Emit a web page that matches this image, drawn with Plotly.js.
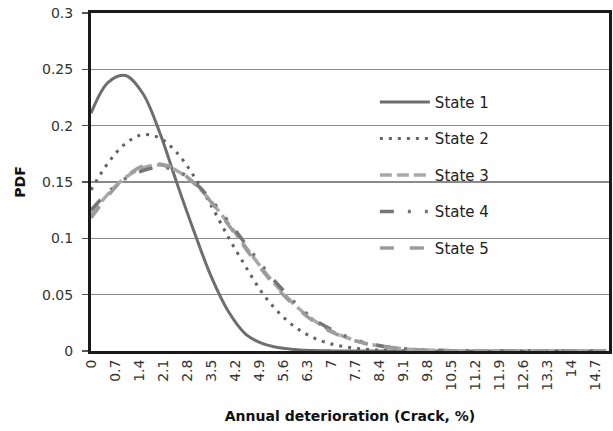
<!DOCTYPE html>
<html>
<head>
<meta charset="utf-8">
<script src="https://cdn.plot.ly/plotly-3.0.1.min.js"></script>
<style>html,body{margin:0;padding:0;background:#fff;}#chart{width:613px;height:431px;}</style>
</head>
<body>
<div id="chart"></div>
<script>
// x positions (Annual deterioration, Crack %)
var xVals = [0,0.5,1,1.5,2,2.5,3,3.5,4,4.5,5,5.5,6,6.5,7,7.5,8,8.5,9,9.5,10,10.5,11,12,13,14,15];
var state1 = [0.211,0.2385,0.2445,0.229,0.194,0.149,0.106,0.066,0.035,0.015,0.0065,0.0028,0.0011,0.0004,0.0001,0,0,0,0,0,0,0,0,0,0,0,0];
var state2 = [0.143,0.167,0.184,0.192,0.189,0.176,0.155,0.129,0.101,0.075,0.051,0.033,0.020,0.0115,0.0062,0.0032,0.0015,0.0007,0.0003,0.0001,0,0,0,0,0,0,0];
var state3 = [0.121,0.1395,0.154,0.1625,0.165,0.160,0.149,0.1325,0.113,0.0925,0.0725,0.0545,0.039,0.027,0.0178,0.0113,0.0068,0.0040,0.0022,0.0012,0.0006,0.0003,0.0001,0,0,0,0];
var state4 = [0.125,0.141,0.153,0.160,0.163,0.160,0.150,0.134,0.115,0.095,0.075,0.057,0.041,0.028,0.019,0.012,0.0072,0.0043,0.0024,0.0013,0.0007,0.0003,0.0001,0,0,0,0];
var state5 = [0.118,0.138,0.154,0.164,0.166,0.161,0.149,0.132,0.112,0.091,0.071,0.053,0.038,0.026,0.017,0.0108,0.0065,0.0038,0.0021,0.0011,0.0005,0.0002,0.0001,0,0,0,0];
var seriesNames = ['State 1','State 2','State 3','State 4','State 5'];
var tickLabels = ['0','0.7','1.4','2.1','2.8','3.5','4.2','4.9','5.6','6.3','7','7.7','8.4','9.1','9.8','10.5','11.2','11.9','12.6','13.3','14','14.7'];
var yTickLabels = ['0','0.05','0.1','0.15','0.2','0.25','0.3'];

var styles = [
  {color:'#6e6e6e', width:3, dash:'solid'},
  {color:'#646464', width:3, dash:'3px,6px'},
  {color:'#a9a9a9', width:3.5, dash:'12px,5px'},
  {color:'#767676', width:3.5, dash:'14px,14px,3px,14px,3px,14px'},
  {color:'#9c9c9c', width:3.5, dash:'14px,16px'}
];
var ys = [state1,state2,state3,state4,state5];
var traces = ys.map(function(y,i){
  return {x:xVals, y:y, type:'scatter', mode:'lines', name:seriesNames[i],
    legendgroup:'g'+i,
    line:{color:styles[i].color, width:styles[i].width, dash:styles[i].dash, shape:'spline', smoothing:1}};
});

var font = {family:'DejaVu Sans, sans-serif', size:14, color:'#333'};
var layout = {
  width:613, height:431,
  margin:{l:91, r:4, t:13, b:80},
  paper_bgcolor:'#fff', plot_bgcolor:'#fff',
  font: font,
  showlegend:true,
  legend:{x:0.548, y:0.785, xanchor:'left', yanchor:'top', bgcolor:'rgba(0,0,0,0)',
    font:{family:'DejaVu Sans, sans-serif', size:15, color:'#222'}, tracegroupgap:14, itemwidth:50},
  xaxis:{
    range:[0,15.08], tickmode:'array',
    tickvals: tickLabels.map(function(t){return parseFloat(t);}),
    ticktext: tickLabels, tickangle:-90, ticks:'',
    showgrid:false, zeroline:false,
    showline:true, mirror:true, linecolor:'#1a1a1a', linewidth:3,
    tickfont:{family:'DejaVu Sans, sans-serif', size:14, color:'#333'},
    title:{text:'Annual deterioration (Crack, %)', font:{family:'DejaVu Sans, sans-serif', size:14, color:'#111', weight:'bold'}, standoff:22}
  },
  yaxis:{
    range:[0,0.3], tickmode:'array',
    tickvals: yTickLabels.map(function(t){return parseFloat(t);}),
    ticktext: yTickLabels,
    ticks:'outside', ticklen:6, tickcolor:'#555', tickwidth:1.5,
    ticklabelstandoff:6,
    showgrid:true, gridcolor:'#8a8a8a', gridwidth:1.5, zeroline:false,
    showline:true, mirror:true, linecolor:'#1a1a1a', linewidth:3,
    tickfont:{family:'DejaVu Sans, sans-serif', size:14, color:'#333'},
    title:{text:'PDF', font:{family:'DejaVu Sans, sans-serif', size:14, color:'#111', weight:'bold'}, standoff:14}
  }
};
Plotly.newPlot('chart', traces, layout, {displayModeBar:false, staticPlot:true});
</script>
</body>
</html>
